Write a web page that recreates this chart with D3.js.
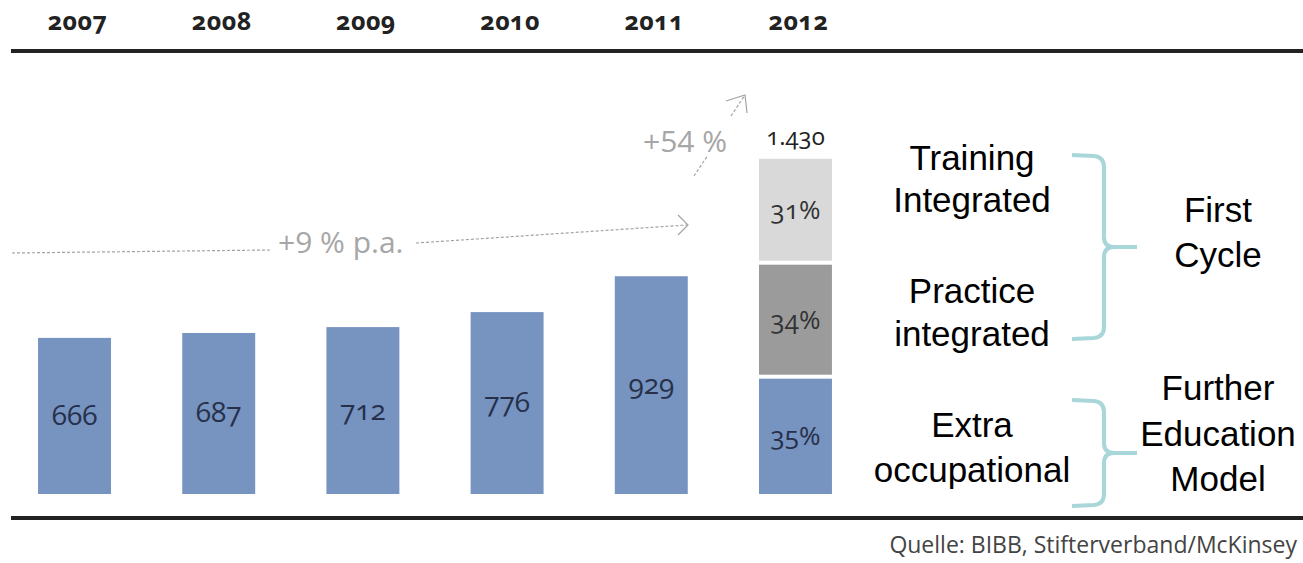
<!DOCTYPE html>
<html>
<head>
<meta charset="utf-8">
<script src="https://cdn.jsdelivr.net/npm/d3@7"></script>
<style>
body { margin: 0; background: #fff; }
svg text { font-family: "Open Sans", sans-serif; }
.num { font-variant-numeric: oldstyle-nums; font-feature-settings: "onum" 1; }
.side { font-family: "Liberation Sans", Arial, sans-serif !important; }
</style>
</head>
<body>
<div id="chart"></div>
<script>
// data
var years = ["2007", "2008", "2009", "2010", "2011", "2012"];
var students = [666, 687, 712, 776, 929];          // 2007 - 2011
var total2012 = 1430;
var total2012Label = "1.430";
var shares2012 = [35, 34, 31];                       // bottom -> top
var shareColors = ["#7793c0", "#9b9b9b", "#d9d9d9"];
var segmentLabels = [["Extra", "occupational"], ["Practice", "integrated"], ["Training", "Integrated"]];
var groupLabels = [["Further", "Education", "Model"], ["First", "Cycle"]];
var growthLabels = ["+9 % p.a.", "+54 %"];
var sourceText = "Quelle: BIBB, Stifterverband/McKinsey";

var W = 1303, H = 563;
var base = 494;

var svg = d3.select("#chart").append("svg")
    .attr("width", W)
    .attr("height", H);

var x = d3.scaleBand()
    .domain(years)
    .range([2, 868])
    .paddingInner(0.494)
    .paddingOuter(0.25);

var y = d3.scaleLinear()
    .domain([0, total2012])
    .range([base, base - 335.2]);

// top axis with year labels
var topAxis = d3.axisTop(x).tickSize(0).tickPadding(0);
var gTop = svg.append("g")
    .attr("transform", "translate(3,30)")
    .call(topAxis);
gTop.select(".domain").remove();
gTop.selectAll("text")
    .attr("class", "num")
    .attr("dy", 0)
    .style("font-size", "25px")
    .style("font-weight", "bold")
    .style("letter-spacing", "0.5px")
    .style("fill", "#222");

svg.append("line")
    .attr("x1", 11).attr("x2", W)
    .attr("y1", 51).attr("y2", 51)
    .attr("stroke", "#222")
    .attr("stroke-width", 4);

svg.append("line")
    .attr("x1", 11).attr("x2", W)
    .attr("y1", 518).attr("y2", 518)
    .attr("stroke", "#222")
    .attr("stroke-width", 4);

// bars 2007-2011
var bars = svg.append("g");
for (var i = 0; i < students.length; i++) {
    bars.append("rect")
        .attr("x", x(years[i]))
        .attr("y", y(students[i]))
        .attr("width", x.bandwidth())
        .attr("height", base - y(students[i]))
        .attr("fill", shareColors[0]);
    bars.append("text")
        .attr("class", "num")
        .attr("x", x(years[i]) + x.bandwidth() / 2)
        .attr("y", (y(students[i]) + base) / 2 + 9)
        .attr("text-anchor", "middle")
        .style("font-size", "28px")
        .style("fill", "#26304a")
        .text(students[i]);
}

// 2012 stacked bar
var gap = 4;
var cum = 0;
shares2012.forEach(function (s, k) {
    var v0 = cum, v1 = cum + total2012 * s / 100;
    cum = v1;
    var top = y(v1) + (k < shares2012.length - 1 ? gap / 2 : 0);
    var bot = y(v0) - (k > 0 ? gap / 2 : 0);
    bars.append("rect")
        .attr("x", x("2012"))
        .attr("y", top)
        .attr("width", x.bandwidth())
        .attr("height", bot - top)
        .attr("fill", shareColors[k]);
    bars.append("text")
        .attr("class", "num")
        .attr("x", x("2012") + x.bandwidth() / 2)
        .attr("y", (top + bot) / 2 + 9)
        .attr("text-anchor", "middle")
        .style("font-size", "26px")
        .style("fill", k == 0 ? "#26304a" : "#333")
        .text(s + "%");
});

bars.append("text")
    .attr("class", "num")
    .attr("x", x("2012") + x.bandwidth() / 2)
    .attr("y", y(total2012) - 14)
    .attr("text-anchor", "middle")
    .style("font-size", "24px")
    .style("fill", "#222")
    .text(total2012Label);

// growth annotations
var ann = svg.append("g")
    .attr("stroke", "#a3a3a3")
    .attr("stroke-width", 1.2)
    .attr("fill", "none");
ann.append("path").attr("stroke-dasharray", "3,2").attr("d", "M12,253 L270,250");
ann.append("path").attr("stroke-dasharray", "3,2").attr("d", "M416,243 L687,225");
ann.append("path").attr("d", "M678,215 L688,225 L678,235");
ann.append("path").attr("stroke-dasharray", "3,2").attr("d", "M694,176 L708,155");
ann.append("path").attr("stroke-dasharray", "3,2").attr("d", "M731,116 L745,95");
ann.append("path").attr("d", "M726,101 L745,95 L747,113");

svg.append("text")
    .attr("x", 278).attr("y", 253)
    .style("font-size", "30px")
    .style("fill", "#a6a6a6")
    .text(growthLabels[0]);
svg.append("text")
    .attr("x", 643).attr("y", 152)
    .style("font-size", "30px")
    .style("fill", "#a6a6a6")
    .text(growthLabels[1]);

// right side labels
var side = svg.append("g");
var segBaselines = [[437, 482], [303, 346], [170, 212]];
segmentLabels.forEach(function (lines, k) {
    lines.forEach(function (t, j) {
        side.append("text")
            .attr("class", "side")
            .attr("x", 972)
            .attr("y", segBaselines[k][j])
            .attr("text-anchor", "middle")
            .style("font-size", "35px")
            .style("fill", "#000")
            .text(t);
    });
});
var groupBaselines = [[400, 446, 491], [222, 267]];
groupLabels.forEach(function (lines, k) {
    lines.forEach(function (t, j) {
        side.append("text")
            .attr("class", "side")
            .attr("x", 1218)
            .attr("y", groupBaselines[k][j])
            .attr("text-anchor", "middle")
            .style("font-size", "35px")
            .style("fill", "#000")
            .text(t);
    });
});

function brace(xl, yt, yb, xv, xt) {
    var ym = (yt + yb) / 2;
    var r = 10;
    return "M" + xl + "," + yt +
        " L" + (xv - r) + "," + (yt + 1) +
        " Q" + xv + "," + (yt + 2) + " " + xv + "," + (yt + r + 2) +
        " L" + xv + "," + (ym - r) +
        " Q" + xv + "," + ym + " " + (xv + r) + "," + ym +
        " L" + xt + "," + ym +
        " M" + (xv + r) + "," + ym +
        " Q" + xv + "," + ym + " " + xv + "," + (ym + r) +
        " L" + xv + "," + (yb - r - 2) +
        " Q" + xv + "," + (yb - 2) + " " + (xv - r) + "," + (yb - 1) +
        " L" + xl + "," + yb;
}
svg.append("path")
    .attr("d", brace(1072, 155, 339, 1104, 1137))
    .attr("fill", "none")
    .attr("stroke", "#a8d6d9")
    .attr("stroke-width", 4);
svg.append("path")
    .attr("d", brace(1072, 400, 506, 1104, 1137))
    .attr("fill", "none")
    .attr("stroke", "#a8d6d9")
    .attr("stroke-width", 4);

// source
svg.append("text")
    .attr("x", 1297).attr("y", 553)
    .attr("text-anchor", "end")
    .style("font-size", "23px")
    .style("fill", "#444")
    .text(sourceText);
</script>
</body>
</html>
